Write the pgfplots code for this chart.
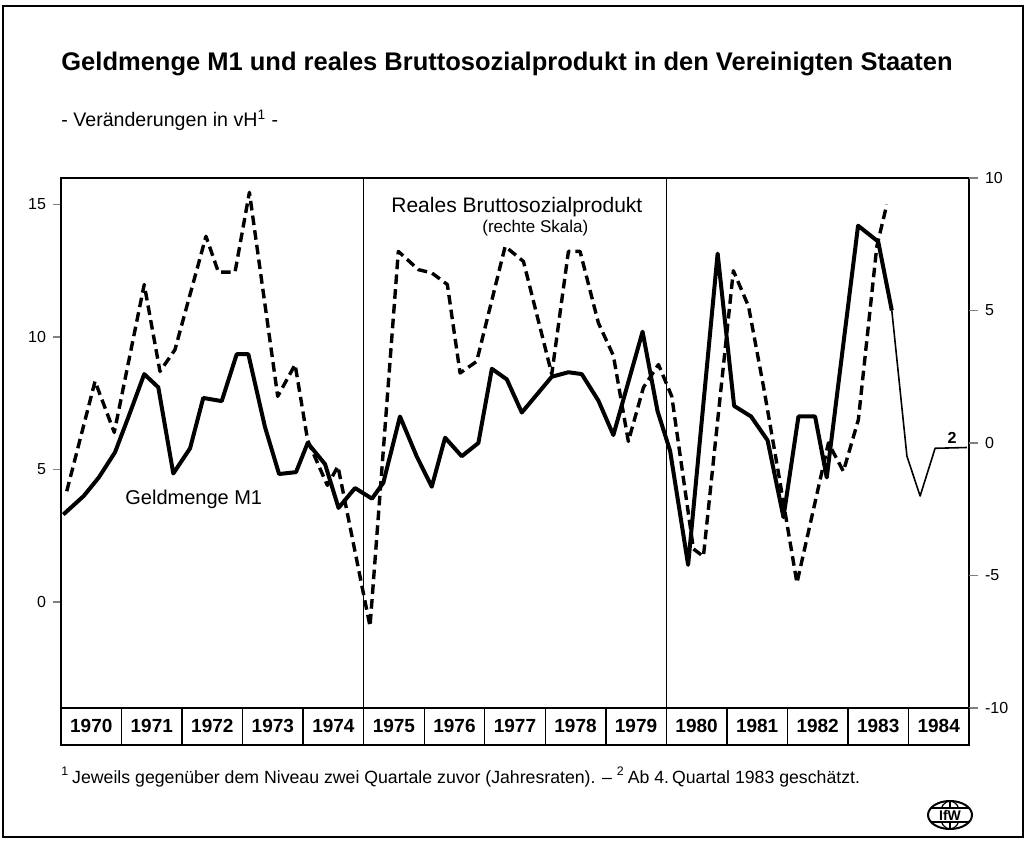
\documentclass[border=0pt]{standalone}
\usepackage{pgfplots}
\pgfplotsset{compat=1.18}
\usepackage{fontspec}
\setmainfont{Liberation Sans}
\begin{document}
\begin{tikzpicture}[x=0.5pt,y=0.5pt]
\useasboundingbox (0,0) rectangle (1026,840);
\draw[line width=1pt] (3,3) rectangle (1023,834);
\node[anchor=base west,font=\fontsize{12.75}{14}\selectfont\bfseries,inner sep=0] at (61,769) {Geldmenge M1 und reales Bruttosozialprodukt in den Vereinigten Staaten};
\node[anchor=base west,font=\fontsize{9.8}{11}\selectfont,inner sep=0] at (61,713) {- Veränderungen in vH\textsuperscript{1} -};

\begin{axis}[
  at={(30.5pt,66pt)}, anchor=south west,
  scale only axis, width=454pt, height=265pt,
  xmin=0, xmax=60, ymin=-4, ymax=16,
  axis line style={line width=0.9pt},
  xtick={2,6,...,58},
  xticklabels={1970,1971,1972,1973,1974,1975,1976,1977,1978,1979,1980,1981,1982,1983,1984},
  xtick pos=bottom,
  xtick style={draw=none},
  xticklabel style={font=\fontsize{9.5}{11}\selectfont\bfseries, anchor=center, yshift=-5.2pt},
  ytick={0,5,10,15}, ytick pos=left,
  tick align=outside, major tick length=4pt,
  ytick style={line width=0.8pt},
  yticklabel style={font=\fontsize{8}{9}\selectfont},
  /pgf/number format/assume math mode=true,
]
\addplot[line width=2pt, line join=round] coordinates {
(0.15,3.3) (1.5,4.0) (2.5,4.7) (3.57,5.65) (4.5,7.05) (5.5,8.6) (6.43,8.1) (7.42,4.85)
(8.53,5.8) (9.4,7.7) (10.62,7.58) (11.61,9.35) (12.38,9.35) (13.48,6.6) (14.41,4.83)
(15.53,4.9) (16.3,6.0) (17.45,5.2) (18.34,3.55) (19.43,4.3) (20.55,3.9) (21.3,4.5)
(22.4,7.0) (23.5,5.5) (24.5,4.35) (25.38,6.2) (26.48,5.5) (27.58,6.0) (28.47,8.8)
(29.46,8.4) (30.45,7.15) (32.43,8.5) (33.53,8.67) (34.41,8.6) (35.51,7.6) (36.5,6.3)
(38.43,10.2) (39.42,7.2) (40.25,5.7) (41.44,1.4) (43.39,13.15) (44.48,7.4) (45.6,7.0)
(46.69,6.1) (47.74,3.2) (48.73,7.0) (49.83,7.0) (50.6,4.7) (52.67,14.2) (54.0,13.6)
(54.9,11.0)
};
\addplot[line width=0.8pt, line join=round] coordinates {
(54.9,11.0) (55.9,5.5) (56.77,4.0) (57.76,5.8) (59.86,5.83)
};
\end{axis}

\begin{axis}[
  at={(30.5pt,66pt)}, anchor=south west,
  scale only axis, width=454pt, height=265pt,
  xmin=0, xmax=60, ymin=-10, ymax=10,
  hide x axis,
  axis line style={draw=none},
  ytick={-10,-5,0,5,10}, ytick pos=right,
  tick align=outside, major tick length=4.5pt,
  ytick style={line width=0.8pt},
  yticklabel style={font=\fontsize{8}{9}\selectfont},
  /pgf/number format/assume math mode=true,
]
\addplot[line width=1.7pt, dash pattern=on 4.8pt off 2.6pt, line join=round] coordinates {
(0.38,-1.82) (2.25,2.33) (3.52,0.4) (5.5,5.98) (6.54,2.7) (7.53,3.52) (9.58,7.8)
(10.4,6.45) (11.5,6.45) (12.45,9.46) (14.32,1.76) (15.47,2.96) (16.3,0.1) (17.6,-1.6)
(18.3,-0.88) (20.42,-6.92) (22.29,7.23) (23.62,6.54) (24.5,6.42) (25.53,5.98)
(26.37,2.64) (27.47,3.08) (29.35,7.42) (30.56,6.85) (32.43,2.6) (33.53,7.23)
(34.3,7.23) (35.51,4.53) (36.5,3.3) (37.49,0.06) (38.49,2.1) (39.48,2.96) (40.36,1.76)
(41.79,-4.0) (42.45,-4.28) (44.43,6.5) (45.43,5.16) (46.43,2.1) (47.43,-1.2)
(48.63,-5.28) (50.71,0.0) (51.7,-1.07) (52.69,0.88) (53.91,7.42) (54.57,9.0)
};
\end{axis}

% year boxes and separators
\draw[line width=0.9pt] (61,132) -- (61,95) -- (969,95) -- (969,132);
\foreach \k in {1,...,14} \draw[line width=0.7pt] ({61+60.5333*\k},132) -- ({61+60.5333*\k},95);
\draw[line width=0.8pt] (363.67,662) -- (363.67,132);
\draw[line width=0.8pt] (666.33,662) -- (666.33,132);

% labels
\node[anchor=base west,font=\fontsize{10.5}{12}\selectfont,inner sep=0] at (391,627) {Reales Bruttosozialprodukt};
\node[anchor=base west,font=\fontsize{8.5}{10}\selectfont,inner sep=0] at (482,607) {(rechte Skala)};
\node[anchor=base west,font=\fontsize{10}{12}\selectfont,inner sep=0] at (125,335) {Geldmenge M1};
\node[font=\fontsize{8}{9}\selectfont\bfseries,inner sep=0] at (952,402) {2};

% footnote
\node[anchor=base west,font=\fontsize{8.85}{10}\selectfont,inner sep=0] at (61,57) {\textsuperscript{1}\,Jeweils gegenüber dem Niveau zwei Quartale zuvor (Jahresraten). -- \textsuperscript{2}\,Ab 4.\,Quartal 1983 geschätzt.};

% logo
\begin{scope}[shift={(950,25)}]
\draw[line width=1pt] (0,0) ellipse [x radius=22, y radius=14];
\draw[line width=0.6pt] (0,0) ellipse [x radius=10, y radius=14];
\draw[line width=0.6pt] (0,-14) -- (0,14);
\draw[line width=0.6pt] (-19,-7) -- (19,-7);
\draw[line width=0.6pt] (-19,7) -- (19,7);
\node[font=\fontsize{7}{8}\selectfont\bfseries,inner sep=0.5pt,fill=white] at (0,0) {IfW};
\end{scope}
\end{tikzpicture}
\end{document}
